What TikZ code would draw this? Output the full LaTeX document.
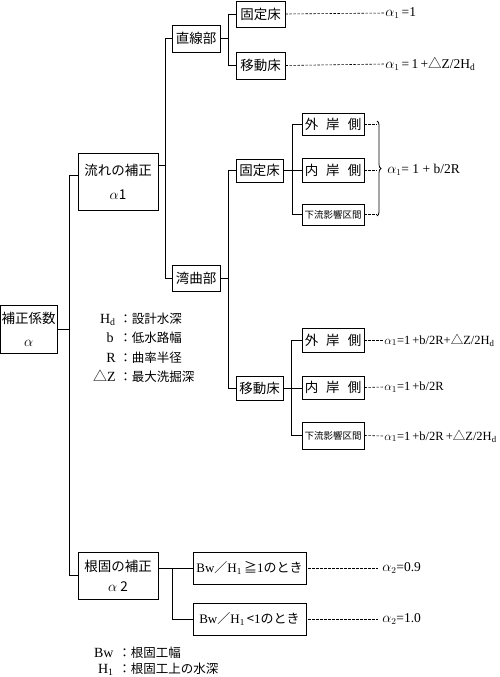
\documentclass[tikz,border=0pt]{standalone}
\usepackage{fontspec}
\setmainfont{Liberation Serif}
\newfontfamily\jp{Noto Sans CJK JP}
\usetikzlibrary{decorations.pathreplacing}
\begin{document}
\begin{tikzpicture}[x=1pt,y=-1pt, line width=0.8pt,
  box/.style={draw, inner sep=0pt, align=center, font=\jp\fontsize{13.5}{16}\selectfont},
  smallbox/.style={box, font=\jp\fontsize{9.5}{11}\selectfont},
  bwbox/.style={box, font=\fontsize{13}{15}\selectfont},
  res/.style={anchor=west, inner sep=0pt, font=\fontsize{13.5}{15}\selectfont},
  reslong/.style={res, font=\fontsize{12.5}{14}\selectfont},
  lab/.style={inner sep=0pt, font=\fontsize{14}{16}\selectfont},
  labj/.style={inner sep=0pt, font=\jp\fontsize{12.5}{15}\selectfont},
  dline/.style={dash pattern=on 2.5pt off 1.5pt, line width=0.6pt}
]
\useasboundingbox (0,0) rectangle (499,677);

% main boxes
\node[box, minimum width=56.5, minimum height=48] (root) at (28.75,329) {補正係数\\[7pt]$\alpha$};
\node[box, minimum width=80, minimum height=57] (flow) at (118,181.5) {流れの補正\\[8pt]$\alpha$1};
\node[box, minimum width=80, minimum height=47] (neka) at (118,575.5) {根固の補正\\[4pt]$\alpha$ 2};

\node[box, minimum width=48, minimum height=27] (straight) at (196,38.5) {直線部};
\node[box, minimum width=48, minimum height=26] (bend) at (196,278) {湾曲部};

\node[box, minimum width=49, minimum height=26] (fix1) at (260.5,14) {固定床};
\node[box, minimum width=49, minimum height=27] (mov1) at (260.5,65.5) {移動床};
\node[box, minimum width=47, minimum height=23] (fix2) at (259.5,170.5) {固定床};
\node[box, minimum width=47, minimum height=24] (mov2) at (259.5,388) {移動床};

\node[box, minimum width=62, minimum height=22] (out1) at (333,124) {外\hspace{8pt}岸\hspace{8pt}側};
\node[box, minimum width=62, minimum height=24] (in1) at (333,170) {内\hspace{8pt}岸\hspace{8pt}側};
\node[smallbox, minimum width=62, minimum height=21] (dn1) at (333,214.5) {下流影響区間};
\node[box, minimum width=62, minimum height=24] (out2) at (333,340) {外\hspace{8pt}岸\hspace{8pt}側};
\node[box, minimum width=62, minimum height=23] (in2) at (333,387.5) {内\hspace{8pt}岸\hspace{8pt}側};
\node[smallbox, minimum width=62, minimum height=27] (dn2) at (333,435.5) {下流影響区間};

\node[bwbox, minimum width=113, minimum height=32] (bw1) at (249.5,568) {Bw{\jp ／}H\textsubscript{1}\,{\jp ≧}1{\jp のとき}};
\node[bwbox, minimum width=113, minimum height=32] (bw2) at (249.5,619) {Bw{\jp ／}H\textsubscript{1}\,{\jp <}1{\jp のとき}};

% tree connectors
\draw ([yshift=6.5pt]flow.west) -- ++(-8,0) |- (neka.west);
\coordinate (bus0) at (70,0);
\draw (root.east) -- (root.east -| bus0);

\draw ([yshift=16.5pt]flow.east) -- ++(8,0);
\draw (straight.west) -- ++(-6,0) |- (bend.west);

\draw (straight.east) -- ++(8.5,0);
\draw (fix1.west) -- ++(-7.5,0) |- (mov1.west);

\draw (bend.east) -- ++(9,0);
\draw (fix2.west) -- ++(-7,0) |- (mov2.west);

\draw (fix2.east) -- (fix2.east -| in1.west);
\draw (out1.west) -- ++(-9,0) |- (dn1.west);

\draw (mov2.east) -- (mov2.east -| in2.west);
\draw (out2.west) -- ++(-10,0) |- (dn2.west);

\draw ([yshift=7.5pt]neka.east) -- (bw1.west);
\draw ([xshift=-20pt]bw1.west) |- (bw2.west);

% results
\node[res] (r1) at (385,13) {$\alpha_1$\,=1};
\node[res] (r2) at (385,64) {$\alpha_1$\,=\,1\,+{\jp △}Z/2H\textsubscript{d}};
\node[res] (r3) at (387,170) {$\alpha_1$= 1 + b/2R};
\node[reslong] (r4) at (384,340) {$\alpha_1$=1\,+b/2R+{\jp △}Z/2H\textsubscript{d}};
\node[reslong] (r5) at (384,387) {$\alpha_1$=1\,+b/2R};
\node[reslong] (r6) at (384,436) {$\alpha_1$=1\,+b/2R\,+{\jp △}Z/2H\textsubscript{d}};
\node[res] (r7) at (382,568) {$\alpha_2$=0.9};
\node[res] (r8) at (382,619) {$\alpha_2$=1.0};

\draw[dline] (fix1.east) -- (r1.west);
\draw[dline] (mov1.east) -- (r2.west);
\draw[dline] (out2.east) -- (r4.west);
\draw[dline] (in2.east) -- (r5.west);
\draw[dline] (dn2.east) -- (r6.west);
\draw[dline] ([xshift=2pt]bw1.east) -- ([xshift=-4pt]r7.west);
\draw[dline] ([xshift=2pt]bw2.east) -- ([xshift=-4pt]r8.west);

% brace
\coordinate (bt) at (377,121);
\coordinate (bb) at (377,216);
\draw[dline] (out1.east) -- (out1.east -| bt);
\draw[dline] (in1.east) -- (in1.east -| bt);
\draw[dline] (dn1.east) -- (dn1.east -| bt);
\draw[decorate, decoration={brace, amplitude=4pt}] (bt) -- (bb);

% legends
\node[lab, anchor=base east] (lg1) at (116,323) {H\textsubscript{d}};
\node[labj, anchor=base west] (lg1t) at (119,323) {：設計水深};
\node[lab, anchor=base east] (lg2) at (114,342) {b};
\node[labj, anchor=base west] (lg2t) at (119,342) {：低水路幅};
\node[lab, anchor=base east] (lg3) at (116,362) {R};
\node[labj, anchor=base west] (lg3t) at (119,362) {：曲率半径};
\node[lab, anchor=base east] (lg4) at (116,381) {{\jp △}Z};
\node[labj, anchor=base west] (lg4t) at (119,381) {：最大洗掘深};

\node[lab, anchor=base east] (lg5) at (114,657) {Bw};
\node[labj, anchor=base west] (lg5t) at (118,657) {：根固工幅};
\node[lab, anchor=base east] (lg6) at (114,673) {H\textsubscript{1}};
\node[labj, anchor=base west] (lg6t) at (118,673) {：根固工上の水深};
\end{tikzpicture}
\end{document}
